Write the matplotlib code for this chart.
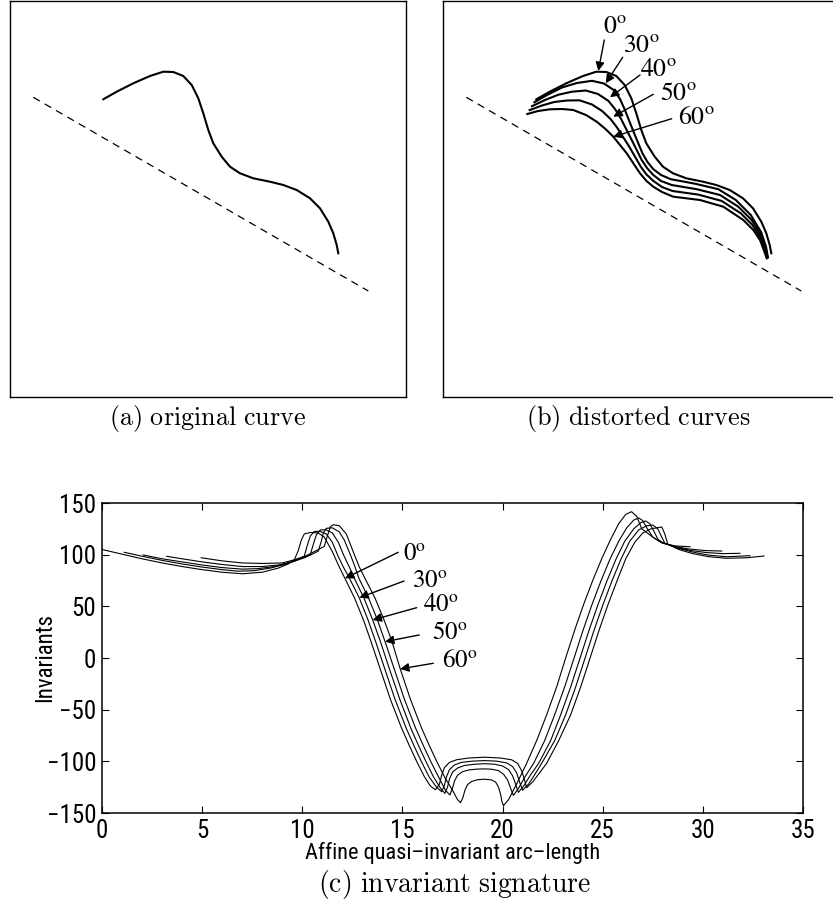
import matplotlib
matplotlib.use("Agg")
import matplotlib.pyplot as plt
from matplotlib import font_manager
from matplotlib.font_manager import FontProperties

# ---------- pick a narrow sans font if one exists ----------
def _is_narrow(f):
    n = f.name
    st = f.stretch
    if 'Narrow' in n or 'Condensed' in n:
        return True
    if isinstance(st, str) and 'condensed' in st:
        return True
    if isinstance(st, (int, float)) and st < 500:
        return True
    return False

_pref = ['Liberation Sans', 'Arial', 'Nimbus', 'Roboto', 'Open Sans', 'Noto Sans', 'DejaVu Sans', 'Lato', 'Inter']
_cands = [f for f in font_manager.fontManager.ttflist
          if _is_narrow(f) and f.style == 'normal' and f.weight in (400, 'normal', 'regular', 'book')
          and 'Mono' not in f.name and 'Serif' not in f.name]
_best = None
for p in _pref:
    for f in _cands:
        if f.name.startswith(p):
            _best = f
            break
    if _best:
        break
if _best is None and _cands:
    _best = _cands[0]
if _best is not None:
    def SANS(size):
        return FontProperties(fname=_best.fname, size=size)
    TICK_SIZE, XLABEL_SIZE, YLABEL_SIZE = 18, 16, 16.5
else:
    def SANS(size):
        return FontProperties(family='Liberation Sans', size=size)
    TICK_SIZE, XLABEL_SIZE, YLABEL_SIZE = 15, 13, 14

plt.rcParams['font.family'] = ['Liberation Sans', 'DejaVu Sans']

# ---------------- data ----------------
ORIG_CURVE = [(93.3, 297.7), (106.7, 305.3), (123.3, 313.7), (140, 321), (153.3, 325.3), (163.3, 325),
              (173.3, 321), (181.7, 312), (188.3, 298.7), (193.3, 283.7), (198.3, 267), (203.3, 253.7),
              (211.7, 240.3), (220, 230.3), (230, 223.7), (243.3, 218.7), (260, 215.3), (273.3, 212),
              (286.7, 207), (300, 198.7), (310, 188.7), (318.3, 175.3), (323.3, 163.7), (326.7, 152),
              (328.3, 143.7)]
AXIS_LINE = [(23.3, 299.7), (358.3, 106)]

DIST_30 = [(91.4, 294.8), (105, 302.5), (119.5, 309.7), (134, 314), (149, 316.2), (161, 313.5),
           (171.2, 306.6), (177, 298), (181.6, 287.8), (191.2, 263.6), (199.5, 243.6), (204.5, 235),
           (210.3, 227.8), (218, 222), (227.8, 217.8), (252, 213.3), (275.3, 207.8), (292.8, 197),
           (307.8, 182), (318.3, 164.5), (323.1, 149.9), (324.9, 139.9)]
DIST_40 = [(89, 290.8), (102, 297), (115.4, 302.3), (129, 305.3), (142.8, 306.5), (155, 303),
           (165.4, 296.1), (172, 288), (177.8, 278.6), (188.7, 257), (198.7, 237), (204, 229),
           (210.3, 222), (218, 216), (228.7, 212), (253.7, 207.8), (277, 202), (295.3, 190.3),
           (308.7, 177), (317.9, 162), (322.8, 147.8), (324.5, 139.5)]
DIST_50 = [(86.7, 286.9), (99, 291.5), (111.2, 295), (124, 296.5), (136.5, 296.7), (149, 292.5),
           (159.5, 285.7), (167.5, 278), (174.1, 269.4), (186.2, 250.4), (197.8, 230.3), (203.5, 222.5),
           (210.3, 216.1), (219, 210), (229.5, 206), (255.3, 202.4), (278.6, 196.1), (297.8, 183.7),
           (309.5, 172), (317.4, 159.5), (322.4, 145.7), (324.1, 139.1)]
DIST_60 = [(84.3, 283), (95, 286), (107, 287.7), (119, 288), (130.3, 287), (143, 282),
           (153.7, 275.3), (162.5, 268), (170.3, 260.3), (183.7, 243.7), (197, 223.7), (203.5, 216),
           (210.3, 210.3), (219, 205), (230.3, 200.3), (257, 197), (280.3, 190.3), (300.3, 177),
           (310.3, 167), (317, 157), (322, 143.7), (323.7, 138.7)]

ANGLE_LABELS = ['0', '30', '40', '50', '60']
B_TEXT = [(160.3, 364.3), (179.7, 345.3), (197, 321), (217, 297), (235.3, 273)]
B_ARROW_FROM = [(161.3, 357), (179.7, 339.7), (197, 322), (210.3, 302.7), (228.7, 278.3)]
B_ARROW_TO = [(155.3, 326), (162.7, 313.7), (167, 299.7), (170.3, 280.3), (170.3, 260.3)]

SIG_0 = [(0.0, 105), (1.0, 100.5), (2.0, 96), (3.0, 92), (4.0, 88.5), (5.0, 85.5), (6.0, 83), (7.0, 81.5),
         (8.0, 83), (8.8, 87), (9.3, 91), (9.6, 95), (9.8, 104), (9.95, 114), (10.1, 120), (10.4, 121.5),
         (10.8, 121), (11.1, 117), (11.5, 103), (11.8, 90), (12.13, 77), (12.61, 58), (13.05, 37),
         (13.43, 16), (13.88, -10), (14.4, -40), (14.96, -68), (15.35, -85), (15.71, -100), (16.1, -115),
         (16.4, -124), (16.65, -127.5), (16.85, -122), (16.95, -114), (17.1, -106), (17.35, -101),
         (17.7, -98.5), (18.3, -96.8), (19.1, -96), (19.9, -96.8), (20.45, -98.5), (20.75, -102),
         (20.95, -109), (21.1, -118), (21.2, -125.5), (21.5, -120), (21.85, -111), (22.2, -102), (22.8, -80),
         (23.4, -55), (23.9, -28), (24.37, 0), (24.82, 27), (25.27, 52), (25.72, 75), (26.15, 96),
         (26.6, 112), (27.0, 121), (27.4, 125), (27.95, 126.8), (28.1, 120), (28.25, 110), (28.8, 105),
         (29.5, 101), (30.3, 98), (31.2, 96.5), (32.2, 97), (33.05, 98.7)]
SIG_30 = [(1.11, 102.3), (2.0, 98.5), (3.0, 94.5), (4.0, 91), (5.0, 88), (6.0, 85.5), (6.8, 84), (7.6, 84.5),
          (8.4, 87), (9.0, 90), (9.5, 93.5), (9.9, 96.5), (10.1, 98.5), (10.25, 109), (10.4, 118),
          (10.6, 122.5), (10.9, 122.5), (11.2, 120), (11.5, 112), (11.8, 98), (12.05, 88), (12.36, 77),
          (12.85, 58), (13.28, 37), (13.66, 16), (14.11, -10), (14.63, -40), (15.19, -68), (15.58, -85),
          (15.94, -100), (16.33, -115), (16.7, -125), (16.96, -129.4), (17.1, -123), (17.2, -115),
          (17.35, -108), (17.6, -103.5), (17.95, -101), (18.5, -99.8), (19.1, -99.3), (19.7, -99.8),
          (20.2, -101.5), (20.5, -105), (20.7, -111), (20.85, -120), (21.0, -128), (21.3, -122),
          (21.6, -113), (21.95, -102), (22.6, -80), (23.15, -55), (23.65, -28), (24.12, 0), (24.57, 27),
          (25.02, 52), (25.47, 75), (25.92, 96), (26.35, 113), (26.8, 124), (27.2, 128), (27.5, 128.7),
          (27.75, 125), (27.95, 117), (28.1, 111), (28.8, 106), (29.5, 102.5), (30.3, 99.5), (31.2, 98),
          (32.35, 99)]
SIG_40 = [(2.06, 99.7), (3.0, 96), (4.0, 93), (5.0, 90), (6.0, 87.5), (7.0, 86), (7.8, 86.5), (8.6, 88.5),
          (9.2, 91), (9.7, 94.5), (10.1, 97.5), (10.4, 100), (10.55, 110), (10.7, 119), (10.9, 124),
          (11.2, 124), (11.5, 121), (11.8, 112), (12.1, 98), (12.35, 88), (12.6, 77), (13.08, 58),
          (13.51, 37), (13.9, 16), (14.34, -10), (14.87, -40), (15.42, -68), (15.81, -85), (16.17, -100),
          (16.55, -115), (16.9, -126), (17.12, -131), (17.25, -125), (17.35, -117), (17.5, -110.5),
          (17.75, -106.5), (18.1, -104), (18.6, -102.8), (19.1, -102.3), (19.6, -102.8), (20.0, -104.5),
          (20.3, -108), (20.5, -114), (20.65, -122), (20.79, -130), (21.05, -124), (21.4, -113),
          (21.8, -102), (22.4, -80), (22.9, -55), (23.4, -28), (23.87, 0), (24.32, 27), (24.77, 52),
          (25.22, 75), (25.67, 96), (26.1, 113), (26.55, 125), (26.9, 131), (27.15, 132.6), (27.35, 130),
          (27.55, 123), (27.75, 115), (28.0, 111.5), (28.7, 107), (29.4, 104), (30.2, 102), (31.0, 101),
          (31.85, 101.3)]
SIG_50 = [(3.23, 98.4), (4.0, 96), (5.0, 93), (6.0, 90.5), (7.0, 88.5), (8.0, 88.5), (8.8, 90), (9.5, 93),
          (10.1, 97), (10.5, 100.5), (10.8, 103.5), (10.95, 113), (11.05, 121), (11.2, 125.5), (11.5, 126),
          (11.85, 122), (12.1, 114), (12.4, 100), (12.6, 90), (12.83, 77), (13.31, 58), (13.75, 37),
          (14.13, 16), (14.58, -10), (15.1, -40), (15.66, -68), (16.05, -85), (16.41, -100), (16.8, -115),
          (17.15, -128), (17.37, -132.6), (17.5, -126), (17.6, -119), (17.75, -113.5), (18.0, -110),
          (18.35, -108.2), (18.75, -107.5), (19.1, -107.3), (19.45, -107.6), (19.8, -109), (20.05, -112.5),
          (20.25, -118), (20.4, -126), (20.54, -133), (20.8, -126), (21.15, -114), (21.55, -102),
          (22.1, -80), (22.6, -55), (23.1, -28), (23.57, 0), (24.02, 27), (24.47, 52), (24.92, 75),
          (25.37, 96), (25.8, 113), (26.2, 126), (26.55, 133.5), (26.8, 135.5), (27.0, 133), (27.2, 126),
          (27.5, 117), (27.9, 112), (28.6, 108), (29.3, 105.5), (30.1, 104), (30.94, 103.5)]
SIG_60 = [(4.95, 97), (6.0, 94), (7.0, 92), (8.0, 91.5), (9.0, 92), (9.6, 95), (10.2, 99), (10.7, 104),
          (11.1, 108), (11.25, 118), (11.4, 127), (11.55, 129), (11.85, 128), (12.2, 120), (12.6, 100),
          (12.85, 88), (13.13, 77), (13.63, 58), (14.08, 37), (14.48, 16), (14.88, -10), (15.4, -40),
          (15.96, -68), (16.35, -85), (16.71, -100), (17.1, -115), (17.5, -128), (17.75, -137), (17.9, -140),
          (18.02, -135), (18.12, -128), (18.25, -122.5), (18.45, -119.5), (18.75, -117.8), (19.1, -117.3),
          (19.45, -118), (19.65, -120), (19.8, -125), (19.9, -132), (19.97, -139), (20.04, -143),
          (20.3, -137), (20.7, -122), (21.2, -102), (21.7, -80), (22.2, -55), (22.7, -28), (23.15, 0),
          (23.6, 27), (24.05, 52), (24.5, 75), (24.95, 96), (25.4, 115), (25.8, 130), (26.15, 139),
          (26.44, 141.6), (26.7, 137), (26.95, 125), (27.5, 117), (28.0, 111), (28.6, 108.5), (29.36, 107.7)]

C_TEXT = [(15.04, 93.9), (15.46, 67.4), (16.01, 45.5), (16.46, 18.4), (16.96, -8.4)]
C_ARROW_FROM = [(14.79, 102.3), (15.08, 74.5), (15.71, 48.7), (15.84, 22.3), (16.54, -5.1)]
C_ARROW_TO = [(12.13, 77.1), (12.85, 58.4), (13.51, 36.8), (14.13, 15.8), (14.88, -10.6)]

X_TICKS = [0, 5, 10, 15, 20, 25, 30, 35]
Y_TICKS = [-150, -100, -50, 0, 50, 100, 150]

# ---------------- figure ----------------
W, H = 833, 922
fig = plt.figure(figsize=(W / 100, H / 100), dpi=100)


def frac(x0, y0, x1, y1):
    return [x0 / W, 1 - y1 / H, (x1 - x0) / W, (y1 - y0) / H]


def xy(pts):
    return [p[0] for p in pts], [p[1] for p in pts]


ax_a = fig.add_axes(frac(10, 1, 406, 397))
ax_b = fig.add_axes(frac(443, 1, 839, 397))
for ax in (ax_a, ax_b):
    ax.set_xlim(0, 396)
    ax.set_ylim(0, 396)
    ax.set_xticks([])
    ax.set_yticks([])
    for s in ax.spines.values():
        s.set_linewidth(1.0)
    lx, ly = xy(AXIS_LINE)
    ax.plot(lx, ly, color='k', lw=0.9, linestyle=(0, (6, 4.5)))

cx, cy = xy(ORIG_CURVE)
ax_a.plot(cx, cy, color='k', lw=1.5)

for curve in (ORIG_CURVE, DIST_30, DIST_40, DIST_50, DIST_60):
    px_, py_ = xy(curve)
    ax_b.plot(px_, py_, color='k', lw=1.5)

arrow_kw = dict(arrowstyle='-|>', color='k', lw=1.0, mutation_scale=13, shrinkA=0, shrinkB=0)
for lab, t, a0, a1 in zip(ANGLE_LABELS, B_TEXT, B_ARROW_FROM, B_ARROW_TO):
    ax_b.annotate('', xy=a1, xytext=a0, arrowprops=arrow_kw)
    ax_b.text(t[0], t[1], r'$%s^{\mathrm{o}}$' % lab, fontsize=18.5, ha='left', va='baseline',
              math_fontfamily='stix')

fig.text(208 / W, 1 - 419 / H, r'$\mathrm{(a)\ original\ curve}$', fontsize=18.8, ha='center', va='center',
         math_fontfamily='cm')
fig.text(638 / W, 1 - 419 / H, r'$\mathrm{(b)\ distorted\ curves}$', fontsize=18.8, ha='center', va='center',
         math_fontfamily='cm')

ax_c = fig.add_axes(frac(102, 503, 803, 813))
for sig in (SIG_0, SIG_30, SIG_40, SIG_50, SIG_60):
    sx, sy = xy(sig)
    ax_c.plot(sx, sy, color='k', lw=0.8)

for lab, t, a0, a1 in zip(ANGLE_LABELS, C_TEXT, C_ARROW_FROM, C_ARROW_TO):
    ax_c.annotate('', xy=a1, xytext=a0, arrowprops=arrow_kw)
    ax_c.text(t[0], t[1], r'$%s^{\mathrm{o}}$' % lab, fontsize=18, ha='left', va='baseline',
              math_fontfamily='stix')

ax_c.set_xlim(0, 35)
ax_c.set_ylim(-150, 150)
ax_c.set_xticks(X_TICKS)
ax_c.set_yticks(Y_TICKS)
ax_c.tick_params(direction='in', top=True, right=True, length=5, width=0.8, pad=4)
for lbl in ax_c.get_xticklabels() + ax_c.get_yticklabels():
    lbl.set_fontproperties(SANS(TICK_SIZE))
for s in ax_c.spines.values():
    s.set_linewidth(1.1)

fig.text(453 / W, 1 - 853 / H, 'Affine quasi\u2013invariant arc\u2013length', fontproperties=SANS(XLABEL_SIZE),
         ha='center', va='center')
fig.text(45 / W, 1 - 658 / H, 'Invariants', fontproperties=SANS(YLABEL_SIZE), ha='center', va='center',
         rotation=90)
fig.text(318 / W, 1 - 884 / H, r'$\mathrm{(c)\ invariant\ signature}$', fontsize=20, ha='left',
         va='center', math_fontfamily='cm')

fig.savefig('out.png', dpi=100)
